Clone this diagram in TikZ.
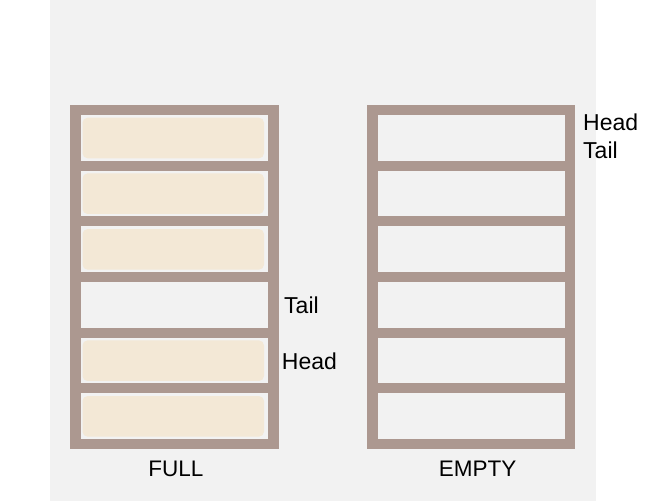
\documentclass[tikz,border=0pt]{standalone}
\usepackage{fontspec}
\setmainfont{Liberation Sans}
\definecolor{barcol}{HTML}{AC9890}
\definecolor{bgcol}{HTML}{F2F2F2}
\definecolor{slotcol}{HTML}{F3E8D6}
\tikzset{
  framebar/.style={fill=barcol},
  slotbox/.style={fill=slotcol, rounded corners=5pt},
  lbl/.style={anchor=base west, inner sep=0pt, font=\fontsize{23}{27}\selectfont},
  captionlbl/.style={anchor=base, inner sep=0pt, font=\fontsize{22.5}{26}\selectfont}
}
\begin{document}
\begin{tikzpicture}[x=1pt,y=-1pt]
\useasboundingbox (0,0) rectangle (648,501);
\fill[bgcol] (50,0) rectangle (596,501);
% left stack (FULL)
\fill[framebar] (70,105) rectangle (81,449);
\fill[framebar] (268,105) rectangle (279,449);
\foreach \k in {0,...,6} {
  \fill[framebar] (70,{105+55.67*\k}) rectangle (279,{115+55.67*\k});
}
\foreach \k in {0,1,2,4,5} {
  \fill[slotbox] (82.5,{117.7+55.67*\k}) rectangle (264,{158.3+55.67*\k});
}
% right stack (EMPTY)
\fill[framebar] (367,105) rectangle (378,449);
\fill[framebar] (565,105) rectangle (575,449);
\foreach \k in {0,...,6} {
  \fill[framebar] (367,{105+55.67*\k}) rectangle (575,{115+55.67*\k});
}
% labels
\node[lbl] (lt) at (284,313.3) {Tail};
\node[lbl] (lh) at (281.7,369.3) {Head};
\node[lbl] (rh) at (583,130.7) {Head};
\node[lbl] (rt) at (583,158.3) {Tail};
\node[captionlbl] (full) at (176,476.7) {FULL};
\node[captionlbl] (empty) at (477.5,476.7) {EMPTY};
\end{tikzpicture}
\end{document}
